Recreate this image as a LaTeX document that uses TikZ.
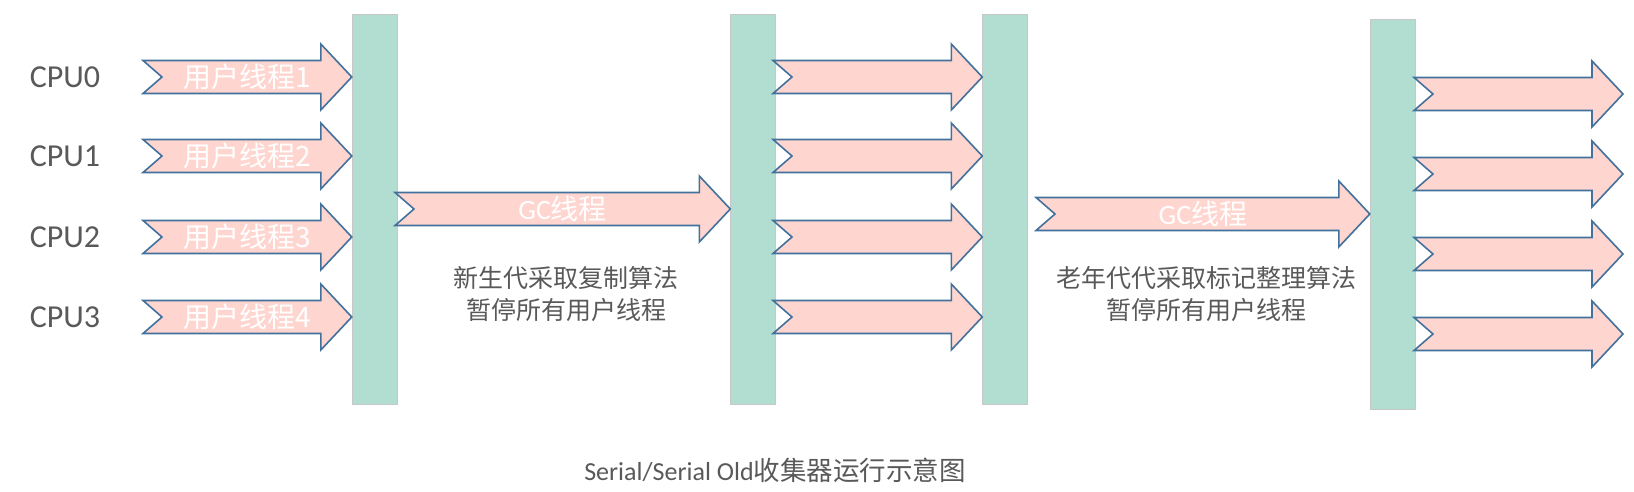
\documentclass[tikz,border=0pt]{standalone}
\usepackage{fontspec}
\setmainfont{Carlito}
\newfontfamily\cjk{Noto Sans CJK SC}
\usepackage{tikz}
\usetikzlibrary{calc,positioning}
\definecolor{mybarcolor}{RGB}{178,222,210}
\definecolor{mythreadpink}{RGB}{255,213,207}
\definecolor{myedgeblue}{RGB}{65,113,156}
\definecolor{mytextgray}{RGB}{89,89,89}
\tikzstyle{bar}=[draw=black!22,fill=mybarcolor,minimum width=45pt,minimum height=390pt,inner sep=0pt]
\tikzstyle{thread}=[draw=myedgeblue,fill=mythreadpink,line width=1.6pt,line join=miter]
\tikzstyle{threadtext}=[text=white,font=\cjk\fontsize{28}{30}\selectfont,inner sep=0pt]
\tikzstyle{cpu}=[text=mytextgray,font=\fontsize{32}{36}\selectfont,inner sep=0pt]
\tikzstyle{note}=[text=mytextgray,font=\cjk\fontsize{25}{32}\selectfont,align=center,inner sep=0pt]
\tikzstyle{caption}=[text=mytextgray,font=\fontsize{26}{30}\selectfont,inner sep=0pt]
% notched block arrow: tail coordinate, tip reference, label
\newcommand{\threadarrow}[3]{%
  \draw[thread] let \p1=(#1), \p2=(#2 |- #1) in
    (\x1,\y1+16.5) -- (\x2-31,\y1+16.5) -- (\x2-31,\y1+33) -- (\x2,\y1)
    -- (\x2-31,\y1-33) -- (\x2-31,\y1-16.5) -- (\x1,\y1-16.5) -- (\x1+19,\y1) -- cycle;
  \if\relax\detokenize{#3}\relax\else
    \node[threadtext] (#1text) at ($(#1)!0.5!(#2 |- #1)$) {#3};
  \fi}

\begin{document}
\begin{tikzpicture}[x=1pt,y=-1pt]
\useasboundingbox (0,0) rectangle (1634,492);
% safepoint bars
\draw (374.5, 209) node [bar] (b1) {};
\draw (753, 209) node [bar] (b2) {};
\draw (1005, 209) node [bar] (b3) {};
\draw (1392.5, 214) node [bar] (b4) {};
% cpu labels
\draw (65, 77) node [cpu] (cpu0) {CPU0};
\draw (65, 156) node [cpu] (cpu1) {CPU1};
\draw (65, 237) node [cpu] (cpu2) {CPU2};
\draw (65, 317) node [cpu] (cpu3) {CPU3};
% arrow tails
\coordinate (u0) at (143, 77);
\coordinate (u1) at (143, 156);
\coordinate (u2) at (143, 237);
\coordinate (u3) at (143, 317);
\coordinate (v0) at (773, 77);
\coordinate (v1) at (773, 156);
\coordinate (v2) at (773, 237);
\coordinate (v3) at (773, 317);
\coordinate (w0) at (1414, 94);
\coordinate (w1) at (1414, 174);
\coordinate (w2) at (1414, 254);
\coordinate (w3) at (1414, 334);
\coordinate (g1) at (395, 209);
\coordinate (g2) at (1036, 214);
\coordinate (e0) at (1623, 94);
% user threads
\threadarrow{u0}{b1.west}{用户线程1}
\threadarrow{u1}{b1.west}{用户线程2}
\threadarrow{u2}{b1.west}{用户线程3}
\threadarrow{u3}{b1.west}{用户线程4}
\threadarrow{v0}{b3.west}{}
\threadarrow{v1}{b3.west}{}
\threadarrow{v2}{b3.west}{}
\threadarrow{v3}{b3.west}{}
\threadarrow{w0}{e0}{}
\threadarrow{w1}{e0}{}
\threadarrow{w2}{e0}{}
\threadarrow{w3}{e0}{}
% gc threads
\threadarrow{g1}{b2.west}{{\fontspec{Carlito}GC}线程}
\threadarrow{g2}{b4.west}{{\fontspec{Carlito}GC}线程}
\draw (566, 294) node [note] (young) {新生代采取复制算法\\暂停所有用户线程};
\draw (1206, 294) node [note] (old) {老年代代采取标记整理算法\\暂停所有用户线程};
\draw (775, 470) node [caption] (title) {Serial/Serial Old{\cjk\fontsize{26.5}{30}\selectfont 收集器运行示意图}};
\end{tikzpicture}
\end{document}
